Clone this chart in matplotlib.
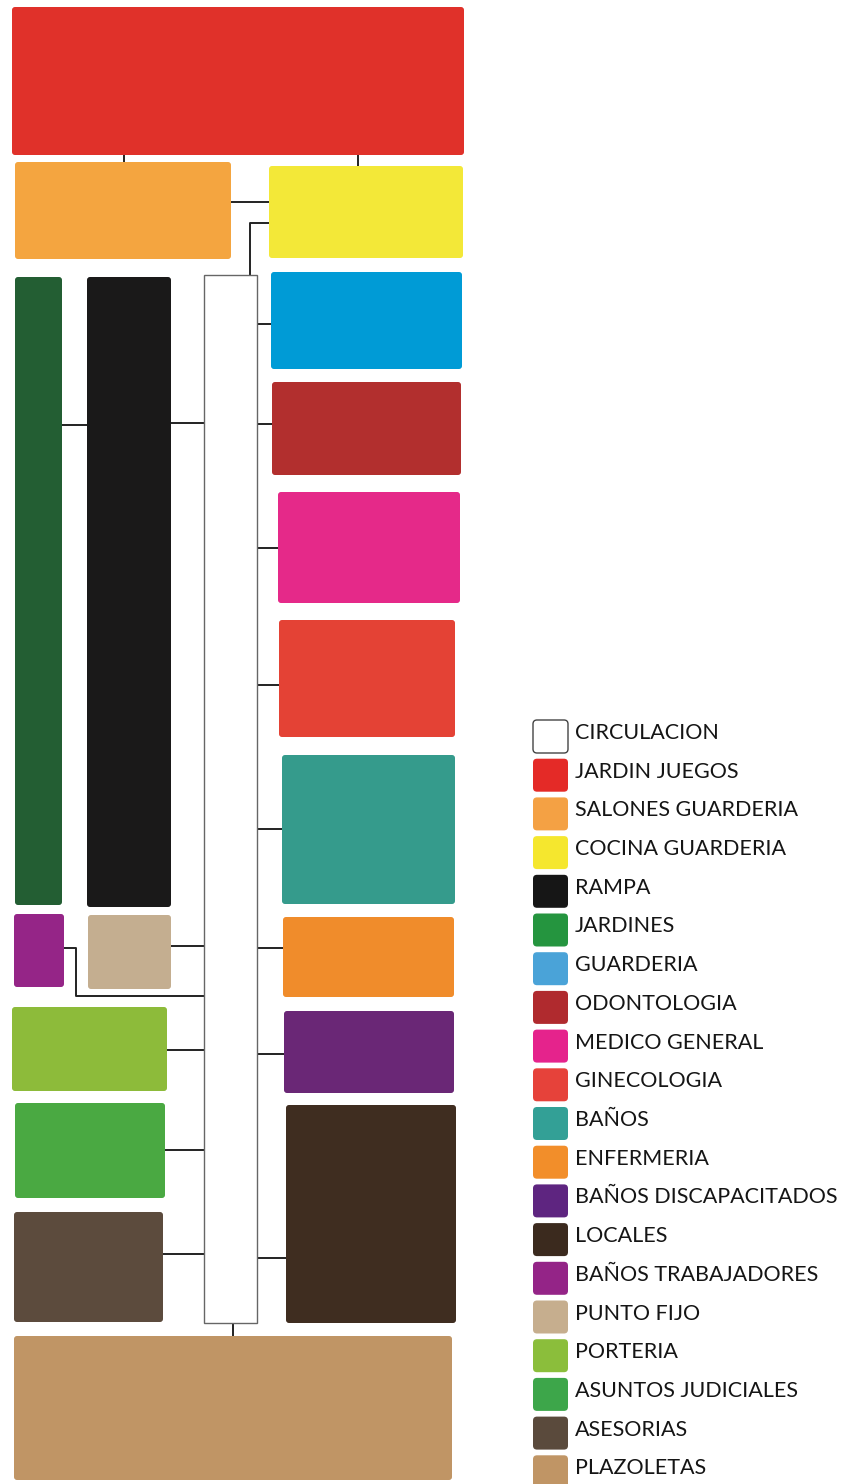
import matplotlib
matplotlib.use('Agg')
import matplotlib.pyplot as plt
from matplotlib.patches import FancyBboxPatch

# spaces of the programme, in legend order
spaces = ['CIRCULACION', 'JARDIN JUEGOS', 'SALONES GUARDERIA', 'COCINA GUARDERIA',
          'RAMPA', 'JARDINES', 'GUARDERIA', 'ODONTOLOGIA', 'MEDICO GENERAL',
          'GINECOLOGIA', 'BAÑOS', 'ENFERMERIA', 'BAÑOS DISCAPACITADOS', 'LOCALES',
          'BAÑOS TRABAJADORES', 'PUNTO FIJO', 'PORTERIA', 'ASUNTOS JUDICIALES',
          'ASESORIAS', 'PLAZOLETAS']

legend_colors = ['#ffffff', '#e42a27', '#f4a144', '#f5e72e', '#161616', '#25953f',
                 '#4aa3d8', '#b02a2e', '#e5238c', '#e6423a', '#33a096', '#f28e2a',
                 '#5e2580', '#3b2a1e', '#942487', '#c6ae8e', '#8bbe3b', '#3da64a',
                 '#5a4a3c', '#c09565']

box_colors = ['#ffffff', '#e0312a', '#f4a540', '#f3e838', '#1a1919', '#235e33',
              '#009bd6', '#b22f2e', '#e52989', '#e44235', '#359b8c', '#f08c2b',
              '#6a2776', '#3f2d20', '#952587', '#c4ae90', '#8dbb3a', '#4aa942',
              '#5c4b3d', '#c09565']

# box extents (x0, y0, x1, y1) in pixels of the 848x1484 sheet
box_extents = [
    (204, 275, 257, 1323),   # circulacion
    (12, 7, 464, 155),       # jardin juegos
    (15, 162, 231, 259),     # salones guarderia
    (269, 166, 463, 258),    # cocina guarderia
    (87, 277, 171, 907),     # rampa
    (15, 277, 62, 905),      # jardines
    (271, 272, 462, 369),    # guarderia
    (272, 382, 461, 475),    # odontologia
    (278, 492, 460, 603),    # medico general
    (279, 620, 455, 737),    # ginecologia
    (282, 755, 455, 904),    # baños
    (283, 917, 454, 997),    # enfermeria
    (284, 1011, 454, 1093),  # baños discapacitados
    (286, 1105, 456, 1323),  # locales
    (14, 914, 64, 987),      # baños trabajadores
    (88, 915, 171, 989),     # punto fijo
    (12, 1007, 167, 1091),   # porteria
    (15, 1103, 165, 1198),   # asuntos judiciales
    (14, 1212, 163, 1322),   # asesorias
    (14, 1336, 452, 1480),   # plazoletas
]

# connector polylines (x list, y list)
links = [
    ([124, 124], [155, 162]),
    ([358, 358], [155, 166]),
    ([231, 269], [202, 202]),
    ([269, 250, 250], [223, 223, 275]),
    ([62, 87], [425, 425]),
    ([171, 204], [423, 423]),
    ([257, 271], [324, 324]),
    ([257, 272], [424, 424]),
    ([257, 278], [548, 548]),
    ([257, 279], [685, 685]),
    ([257, 282], [829, 829]),
    ([257, 283], [948, 948]),
    ([257, 284], [1054, 1054]),
    ([257, 286], [1258, 1258]),
    ([64, 76, 76, 204], [948, 948, 996, 996]),
    ([171, 204], [946, 946]),
    ([167, 204], [1050, 1050]),
    ([165, 204], [1150, 1150]),
    ([163, 204], [1254, 1254]),
    ([233, 233], [1323, 1336]),
]

legend_x = 533
legend_top = 720
legend_step = 38.7

fig = plt.figure(figsize=(8.48, 14.84), dpi=100)
ax = fig.add_axes([0, 0, 1, 1])
ax.set_xlim(0, 848)
ax.set_ylim(1484, 0)
ax.axis('off')

for xs, ys in links:
    ax.plot(xs, ys, color='#222222', lw=1.4, solid_capstyle='butt', zorder=1)

for name, col, (x0, y0, x1, y1) in zip(spaces, box_colors, box_extents):
    if name == 'CIRCULACION':
        p = FancyBboxPatch((x0, y0), x1 - x0, y1 - y0, boxstyle='square,pad=0',
                           facecolor='white', edgecolor='#666666', lw=1.0, zorder=2)
    else:
        p = FancyBboxPatch((x0 + 2, y0 + 2), x1 - x0 - 4, y1 - y0 - 4,
                           boxstyle='round,pad=2,rounding_size=3',
                           facecolor=col, edgecolor='none', zorder=2)
    ax.add_patch(p)

for i, (name, col) in enumerate(zip(spaces, legend_colors)):
    y = legend_top + i * legend_step
    edge = '#444444' if name == 'CIRCULACION' else 'none'
    sw = FancyBboxPatch((legend_x + 2, y + 2), 31, 29,
                        boxstyle='round,pad=2,rounding_size=4',
                        facecolor=col, edgecolor=edge, lw=1.0, zorder=2)
    ax.add_patch(sw)
    ax.text(legend_x + 42, y + 13, name, fontsize=15.5, family=['Lato', 'DejaVu Sans'],
            color='#151515', va='center', ha='left')

fig.savefig('out.png', dpi=100)
